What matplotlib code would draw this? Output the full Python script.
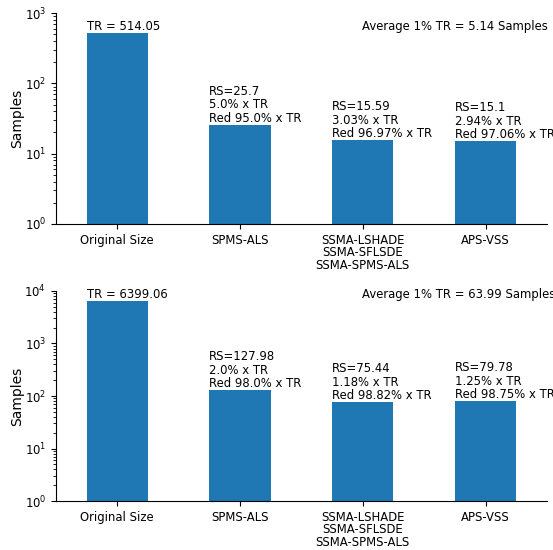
import matplotlib
matplotlib.use("Agg")
import matplotlib.pyplot as plt
import numpy as np

plt.rcParams['font.size'] = 8.4

labels = ["Original Size", "SPMS-ALS", "SSMA-LSHADE\nSSMA-SFLSDE\nSSMA-SPMS-ALS", "APS-VSS"]

tr_top = 514.05
rs_top = [25.7, 15.59, 15.1]
pct_top = [5.0, 3.03, 2.94]
red_top = [95.0, 96.97, 97.06]
avg_top = 5.14

tr_bot = 6399.06
rs_bot = [127.98, 75.44, 79.78]
pct_bot = [2.0, 1.18, 1.25]
red_bot = [98.0, 98.82, 98.75]
avg_bot = 63.99

fig = plt.figure(figsize=(5.53, 5.5), dpi=100)
ax1 = fig.add_axes([0.101, 0.593, 0.888, 0.383])
ax2 = fig.add_axes([0.101, 0.089, 0.888, 0.382])

def draw(ax, tr, rs, pct, red, avg, top):
	x = np.arange(len(labels))
	vals = [tr] + rs
	ax.bar(x, vals, width=0.5, color="#1f77b4")
	ax.set_yscale("log")
	ax.set_ylim(1, top)
	ax.set_xlim(-0.5, 3.5)
	ax.set_xticks(x)
	ax.set_xticklabels(labels, linespacing=0.95)
	ax.set_ylabel("Samples", fontsize=10, labelpad=0)
	ax.spines["top"].set_visible(False)
	ax.spines["right"].set_visible(False)
	ax.text(-0.25, tr, "TR = %s" % tr, ha="left", va="bottom")
	for i in range(len(rs)):
		s = "RS=%s\n%s%% x TR\nRed %s%% x TR" % (rs[i], pct[i], red[i])
		ax.text(i + 1 - 0.25, rs[i], s, ha="left", va="bottom", linespacing=1.05)
	ax.text(1.99, tr, "Average 1%% TR = %s Samples" % avg, ha="left", va="bottom")

draw(ax1, tr_top, rs_top, pct_top, red_top, avg_top, 1e3)
draw(ax2, tr_bot, rs_bot, pct_bot, red_bot, avg_bot, 1e4)

fig.savefig("out.png", dpi=100)
